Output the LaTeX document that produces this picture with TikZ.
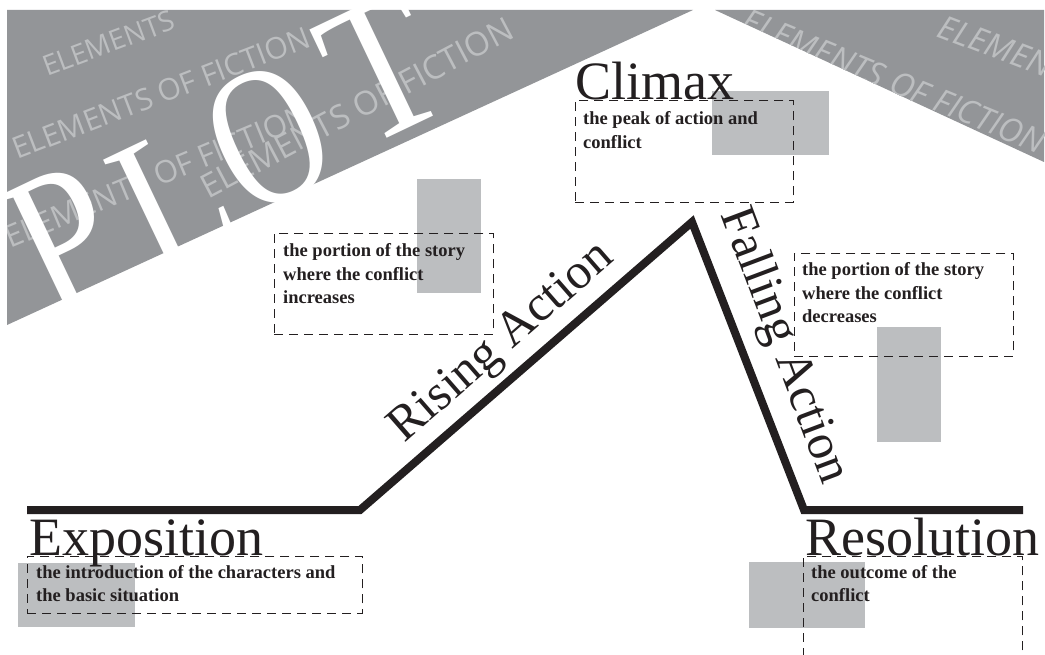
\documentclass[tikz,border=0pt]{standalone}
\usepackage{fontspec}
\setmainfont{Liberation Serif}
\newfontfamily\wmfont{Open Sans}
\definecolor{band}{HTML}{939598}
\definecolor{light}{HTML}{BCBEC0}
\definecolor{ink}{HTML}{231F20}
\tikzset{
  wm/.style={font=\wmfont\fontsize{#1}{#1}\selectfont, text=light, inner sep=0},
  wmit/.style={font=\wmfont\itshape\fontsize{33}{33}\selectfont, text=light, inner sep=0},
  plotletter/.style={font=\fontsize{200}{200}\selectfont, text=white, inner sep=0, rotate=25.5},
  mainline/.style={draw=ink, line width=8pt, line join=miter},
  big/.style={font=\fontsize{54}{54}\selectfont, text=ink, inner sep=0},
  slanted/.style={font=\fontsize{50}{50}\selectfont, text=ink, inner sep=0},
  dbox/.style={draw=ink, dash pattern=on 9pt off 6pt, line width=0.8pt, inner sep=0, anchor=north west},
  desc/.style={font=\fontsize{18.5}{23.5}\selectfont\bfseries, text=ink, inner sep=0, anchor=base west},
  patch/.style={fill=light}
}
\newcommand{\desctext}[1]{\parbox[t]{340pt}{\raggedright #1}}
\newcommand{\narrow}[2][0.85]{\scalebox{#1}[1]{#2}}
\begin{document}
\begin{tikzpicture}[x=1pt,y=-1pt]
\clip (0,0) rectangle (1045,655);
\fill[white] (0,0) rectangle (1045,655);
% grey bands
\fill[band] (7,10) -- (693,10) -- (7,325) -- cycle;
\fill[band] (715,10) -- (1044,10) -- (1044,162) -- cycle;
% watermark texts, left band
\begin{scope}
  \clip (7,10) -- (693,10) -- (7,325) -- cycle;
  \node[wm=28, anchor=west, rotate=20.5] (wmA) at (43.5,67.5) {ELEMENTS};
  \node[wm=30, anchor=west, rotate=21] (wmB) at (13,150) {ELEMENTS OF FICTION};
  \node[wm=31, anchor=east, rotate=22.6] (wmC) at (308,113) {ELEMENTS OF FICTION};
  \node[wm=33, anchor=west, rotate=27.8] (wmD) at (203,189) {ELEMENTS OF FICTION};
\end{scope}
% watermark texts, right band
\begin{scope}
  \clip (715,10) -- (1044,10) -- (1044,162) -- cycle;
  \node[wmit, anchor=west, rotate=-22.5] (wmE) at (744,19) {ELEMENTS OF FICTION};
  \node[wmit, anchor=west, rotate=-21] (wmF) at (940,25) {ELEMENTS OF FICTION};
\end{scope}
% PLOT
\node[plotletter] (plotP) at (64,238) {\narrow{P}};
\node[plotletter] (plotL) at (174,199) {\narrow{L}};
\node[plotletter] (plotO) at (268,137) {\narrow[0.75]{O}};
\node[plotletter] (plotT) at (382,68) {\narrow{T}};
% light grey patches
\fill[patch] (417,179) rectangle (481,293);
\fill[patch] (712,91) rectangle (829,155);
\fill[patch] (877,327) rectangle (941,442);
\fill[patch] (18,563) rectangle (135,627);
\fill[patch] (749,562) rectangle (865,628);
% plot line
\coordinate (start) at (27,510);
\coordinate (rise) at (360,510);
\coordinate (peak) at (692,222);
\coordinate (fall) at (804,510);
\coordinate (end) at (1023,510);
\draw[mainline] (start) -- (rise) -- (peak) -- (fall) -- (end);
% big labels
\node[big, anchor=base west] (expo) at (29,555) {Exposition};
\node[big, anchor=base west] (clim) at (575,100) {Climax};
\node[big, anchor=base west] (reso) at (805,555) {Resolution};
\node[slanted, anchor=base, rotate=41.1] (rising) at (510,352) {Rising Action};
\node[slanted, anchor=base, rotate=-69.4] (falling) at (772,350) {Falling Action};
% dashed boxes
\node[dbox, minimum width=218, minimum height=102] (climbox) at (575,100) {};
\node[dbox, minimum width=219, minimum height=101] (risebox) at (274,233) {};
\node[dbox, minimum width=219, minimum height=103] (fallbox) at (794,253) {};
\node[dbox, minimum width=335, minimum height=57] (expobox) at (27,556) {};
\node[dbox, minimum width=219, minimum height=130] (resobox) at (803,556) {};
% descriptions
\node[desc] (climtxt) at (583,125) {\desctext{the peak of action and\\conflict}};
\node[desc] (risetxt) at (283,257) {\desctext{the portion of the story\\where the conflict\\increases}};
\node[desc] (falltxt) at (802,276) {\desctext{the portion of the story\\where the conflict\\decreases}};
\node[desc] (expotxt) at (36,578) {\desctext{the introduction of the characters and\\the basic situation}};
\node[desc] (resotxt) at (811,578) {\desctext{the outcome of the\\conflict}};
\end{tikzpicture}
\end{document}
